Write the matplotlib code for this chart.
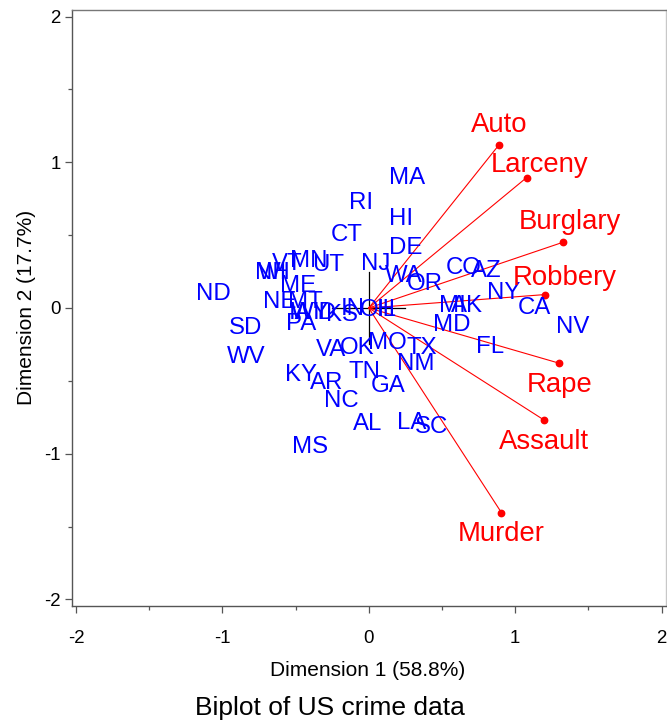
import matplotlib
matplotlib.use("Agg")
import matplotlib.pyplot as plt
from matplotlib.ticker import MultipleLocator

plt.rcParams['font.family'] = ['Liberation Sans', 'DejaVu Sans']
plt.rcParams['axes.unicode_minus'] = False

# State scores (Dimension 1, Dimension 2)
states = ["AL", "AK", "AZ", "AR", "CA", "CO", "CT", "DE", "FL", "GA",
          "HI", "ID", "IL", "IN", "IA", "KS", "KY", "LA", "ME", "MD",
          "MA", "MI", "MN", "MS", "MO", "MT", "NE", "NV", "NH", "NJ",
          "NM", "NY", "NC", "ND", "OH", "OK", "OR", "PA", "RI", "SC",
          "SD", "TN", "TX", "UT", "VT", "VA", "WA", "WV", "WI", "WY"]
dim1 = [-0.01, 0.67, 0.80, -0.29, 1.13, 0.65, -0.15, 0.25, 0.83, 0.13,
        0.22, -0.30, 0.12, -0.11, -0.47, -0.18, -0.46, 0.29, -0.48, 0.57,
        0.26, 0.57, -0.41, -0.40, 0.13, -0.43, -0.61, 1.39, -0.66, 0.05,
        0.32, 0.92, -0.19, -1.06, 0.06, -0.08, 0.38, -0.46, -0.05, 0.43,
        -0.84, -0.03, 0.36, -0.28, -0.56, -0.26, 0.24, -0.84, -0.66, -0.40]
dim2 = [-0.78, 0.03, 0.27, -0.50, 0.02, 0.29, 0.52, 0.43, -0.25, -0.52,
        0.63, -0.02, 0.00, 0.01, -0.02, -0.03, -0.44, -0.77, 0.17, -0.10,
        0.91, 0.03, 0.34, -0.94, -0.22, 0.06, 0.06, -0.11, 0.26, 0.32,
        -0.37, 0.12, -0.62, 0.11, 0.00, -0.26, 0.18, -0.09, 0.74, -0.80,
        -0.12, -0.42, -0.26, 0.31, 0.32, -0.27, 0.24, -0.32, 0.26, -0.02]

# Variable loadings
variables = ["Murder", "Rape", "Robbery", "Assault", "Burglary", "Larceny", "Auto"]
load1 = [0.906, 1.301, 1.201, 1.196, 1.329, 1.078, 0.889]
load2 = [-1.404, -0.379, 0.092, -0.768, 0.452, 0.895, 1.119]

xlabel = "Dimension 1 (58.8%)"
ylabel = "Dimension 2 (17.7%)"
title = "Biplot of US crime data"

# label offsets in pixels (style)
var_offsets = {"Murder": (0, -18), "Rape": (0, -19), "Robbery": (20, 20),
               "Assault": (0, -19), "Burglary": (7, 23), "Larceny": (13, 16),
               "Auto": (0, 23)}

fig = plt.figure(figsize=(6.67, 7.22), dpi=100)
ax = fig.add_axes([71.5/667, 1-606/722, (666-71.5)/667, (606-10)/722])
ax.set_xlim(-2.03, 2.03)
ax.set_ylim(-2.045, 2.045)

# reference cross
ax.plot([-0.25, 0.25], [0, 0], color='black', lw=0.9, zorder=1)
ax.plot([0, 0], [-0.25, 0.25], color='black', lw=0.9, zorder=1)

for v, a, b in zip(variables, load1, load2):
    ax.plot([0, a], [0, b], color='red', lw=0.8, zorder=2)
    ax.plot([a], [b], 'o', color='red', ms=4.6, zorder=2)

for s, a, b in zip(states, dim1, dim2):
    ax.text(a, b, s, color='blue', fontsize=17.3, ha='center',
            va='center_baseline', zorder=3)

for v, a, b in zip(variables, load1, load2):
    ax.annotate(v, (a, b), xytext=var_offsets[v], textcoords='offset pixels',
                color='red', fontsize=19.8, ha='center', va='center_baseline',
                zorder=4)

ax.xaxis.set_major_locator(MultipleLocator(1))
ax.xaxis.set_minor_locator(MultipleLocator(0.5))
ax.yaxis.set_major_locator(MultipleLocator(1))
ax.yaxis.set_minor_locator(MultipleLocator(0.5))
ax.tick_params(axis='both', which='major', length=5, width=0.9,
               color='#555555', labelsize=13.4, labelcolor='black')
ax.tick_params(axis='both', which='minor', length=3, width=0.9, color='#555555')
ax.tick_params(axis='x', which='major', pad=12)
ax.tick_params(axis='y', which='major', pad=3)

for side in ['left', 'bottom']:
    ax.spines[side].set_color('#555555')
    ax.spines[side].set_linewidth(1.0)
ax.spines['top'].set_color('#777777')
ax.spines['top'].set_linewidth(1.0)
ax.spines['right'].set_color('#c8c8c8')
ax.spines['right'].set_linewidth(1.0)

fig.text(368/667, 1-670/722, xlabel, fontsize=15, ha='center', va='center')
fig.text(27/667, 1-307/722, ylabel, fontsize=15, ha='center', va='center',
         rotation=90)
fig.text(330/667, 1-708/722, title, fontsize=19, ha='center', va='center')

fig.savefig("out.png", dpi=100)
